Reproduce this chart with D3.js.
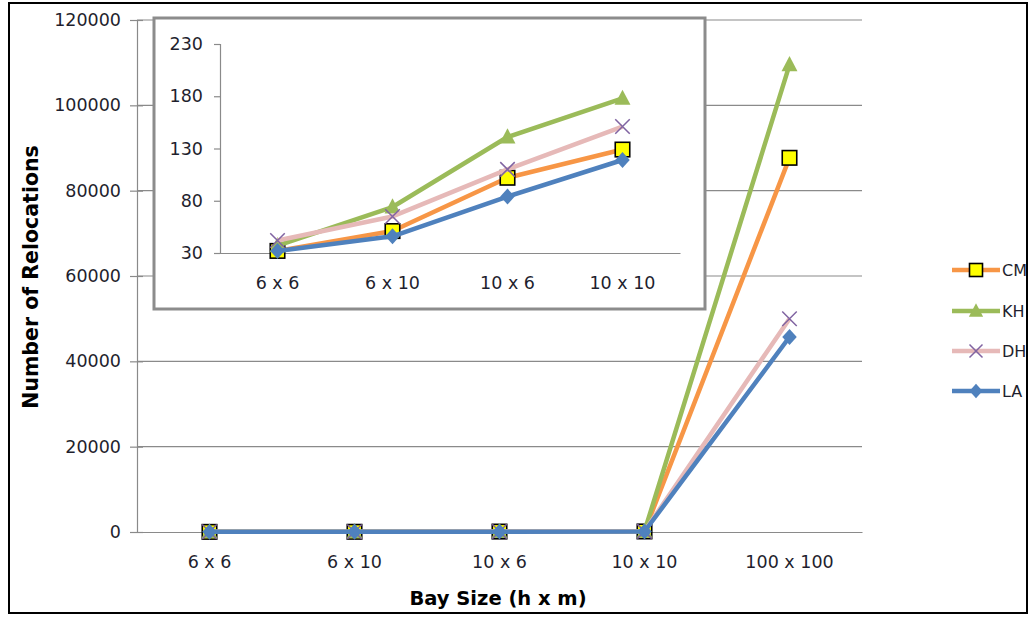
<!DOCTYPE html>
<html>
<head>
<meta charset="utf-8">
<script src="https://cdn.jsdelivr.net/npm/d3@7"></script>
<style>
  html, body { margin: 0; padding: 0; background: #fff; }
  svg { display: block; font-family: "DejaVu Sans", sans-serif; }
</style>
</head>
<body>
<svg id="chart" width="1032" height="617"></svg>
<script>
// ---- data ----
const categories = ["6 x 6", "6 x 10", "10 x 6", "10 x 10", "100 x 100"];
const insetCategories = ["6 x 6", "6 x 10", "10 x 6", "10 x 10"];
const seriesNames = ["CM", "KH", "DH", "LA"];
const CM = [32, 51, 102, 129, 87700];
const KH = [37, 74, 141, 178, 109500];
const DH = [42, 65, 110, 151, 50000];
const LA = [32, 46, 84, 119, 45700];
const mainTicks = [0, 20000, 40000, 60000, 80000, 100000, 120000];
const insetTicks = [30, 80, 130, 180, 230];

const seriesValues = { CM, KH, DH, LA };
const styles = {
  CM: { line: "#F79646", marker: "square", fill: "#FFFF00", stroke: "#000" },
  KH: { line: "#9BBB59", marker: "triangle", fill: "#9BBB59", stroke: "none" },
  DH: { line: "#E6B9B8", marker: "x", fill: "none", stroke: "#8064A2" },
  LA: { line: "#4F81BD", marker: "diamond", fill: "#4F81BD", stroke: "none" }
};

const svg = d3.select("#chart");
const gridColor = "#8a8a8a";
const textColor = "#1f1f2e";
const tickFont = 17.5;

// outer border
svg.append("rect").attr("x", 9).attr("y", 3).attr("width", 1018).attr("height", 610)
  .attr("fill", "#fff").attr("stroke", "#000").attr("stroke-width", 2);

// ---- main chart scales ----
const x = d3.scaleBand().domain(categories).range([137, 862]);
const y = d3.scaleLinear().domain([0, 120000]).range([532, 20]);
const cx = d => x(d) + x.bandwidth() / 2;

// gridlines
svg.append("g").selectAll("line").data(mainTicks.filter(t => t > 0)).join("line")
  .attr("x1", 137).attr("x2", 862)
  .attr("y1", d => y(d)).attr("y2", d => y(d))
  .attr("stroke", gridColor).attr("stroke-width", 1.2);

// y axis
const yAxis = svg.append("g").attr("transform", "translate(137,0)")
  .call(d3.axisLeft(y).tickValues(mainTicks).tickSize(7).tickPadding(9).tickFormat(d3.format("d")));
yAxis.select(".domain").attr("stroke", gridColor).attr("stroke-width", 1.2);
yAxis.selectAll(".tick line").attr("stroke", gridColor).attr("stroke-width", 1.2)
  .attr("x2", 6).attr("x1", -7);
yAxis.selectAll("text").attr("font-size", tickFont).attr("fill", textColor)
  .attr("font-family", "DejaVu Sans");

// x axis
const xAxis = svg.append("g").attr("transform", "translate(0,532)")
  .call(d3.axisBottom(x).tickSize(0).tickPadding(24));
xAxis.select(".domain").attr("stroke", gridColor).attr("stroke-width", 1.2);
xAxis.selectAll("text").attr("font-size", tickFont).attr("fill", textColor)
  .attr("font-family", "DejaVu Sans");

// axis titles
svg.append("text").attr("x", 498).attr("y", 605).attr("text-anchor", "middle")
  .attr("font-size", 19.5).attr("font-weight", "bold").attr("fill", "#000")
  .text("Bay Size (h x m)");
svg.append("text").attr("transform", "translate(31,277) rotate(-90)")
  .attr("text-anchor", "middle").attr("dominant-baseline", "central")
  .attr("font-size", 20.5).attr("font-weight", "bold").attr("fill", "#000")
  .text("Number of Relocations");

// marker drawing
function drawMarker(g, type, st, size) {
  const s = size;
  if (type === "square") {
    g.append("rect").attr("x", -s / 2).attr("y", -s / 2).attr("width", s).attr("height", s)
      .attr("fill", st.fill).attr("stroke", st.stroke).attr("stroke-width", 1.6);
  } else if (type === "triangle") {
    g.append("path").attr("d", `M0,${-s * 0.6}L${s * 0.55},${s * 0.45}L${-s * 0.55},${s * 0.45}Z`)
      .attr("fill", st.fill);
  } else if (type === "diamond") {
    g.append("path").attr("d", `M0,${-s * 0.55}L${s * 0.5},0L0,${s * 0.55}L${-s * 0.5},0Z`)
      .attr("fill", st.fill);
  } else if (type === "x") {
    const h = s * 0.5;
    g.append("path").attr("d", `M${-h},${-h}L${h},${h}M${-h},${h}L${h},${-h}`)
      .attr("stroke", st.stroke).attr("stroke-width", 1.5).attr("fill", "none");
  }
}

function drawSeries(parent, cats, xf, yf, size) {
  seriesNames.forEach(name => {
    const st = styles[name];
    const vals = seriesValues[name].slice(0, cats.length);
    const pts = cats.map((c, i) => [xf(c), yf(vals[i])]);
    parent.append("path").attr("d", d3.line()(pts))
      .attr("fill", "none").attr("stroke", st.line).attr("stroke-width", 4.5)
      .attr("stroke-linejoin", "round");
    pts.forEach(p => {
      const g = parent.append("g").attr("transform", `translate(${p[0]},${p[1]})`);
      drawMarker(g, st.marker, st, size);
    });
  });
}

// main series
drawSeries(svg.append("g"), categories, cx, y, 14.5);

// ---- inset ----
svg.append("rect").attr("x", 154).attr("y", 18).attr("width", 551).attr("height", 291)
  .attr("fill", "#fff").attr("stroke", "#8c8c8c").attr("stroke-width", 3);

const xi = d3.scaleBand().domain(insetCategories).range([220, 680]);
const yi = d3.scaleLinear().domain([30, 230]).range([253, 44]);
const cxi = d => xi(d) + xi.bandwidth() / 2;

const yiAxis = svg.append("g").attr("transform", "translate(220,0)")
  .call(d3.axisLeft(yi).tickValues(insetTicks).tickSize(6).tickPadding(11));
yiAxis.select(".domain").attr("stroke", gridColor).attr("stroke-width", 1.2);
yiAxis.selectAll(".tick line").attr("stroke", gridColor).attr("stroke-width", 1.2);
yiAxis.selectAll("text").attr("font-size", tickFont).attr("fill", textColor)
  .attr("font-family", "DejaVu Sans");

const xiAxis = svg.append("g").attr("transform", "translate(0,253)")
  .call(d3.axisBottom(xi).tickSize(0).tickPadding(24));
xiAxis.select(".domain").attr("stroke", gridColor).attr("stroke-width", 1.2);
xiAxis.selectAll("text").attr("font-size", tickFont).attr("fill", textColor)
  .attr("font-family", "DejaVu Sans");

drawSeries(svg.append("g"), insetCategories, cxi, yi, 14.5);

// ---- legend ----
const legendY = [270, 311, 351, 391];
const legend = svg.append("g");
seriesNames.forEach((name, i) => {
  const st = styles[name];
  const ly = legendY[i];
  legend.append("line").attr("x1", 952).attr("x2", 1000).attr("y1", ly).attr("y2", ly)
    .attr("stroke", st.line).attr("stroke-width", 4.5);
  const g = legend.append("g").attr("transform", `translate(976,${ly})`);
  drawMarker(g, st.marker, st, 13);
  legend.append("text").attr("x", 1002).attr("y", ly).attr("dominant-baseline", "central")
    .attr("font-size", 16).attr("fill", textColor).text(name);
});
</script>
</body>
</html>
